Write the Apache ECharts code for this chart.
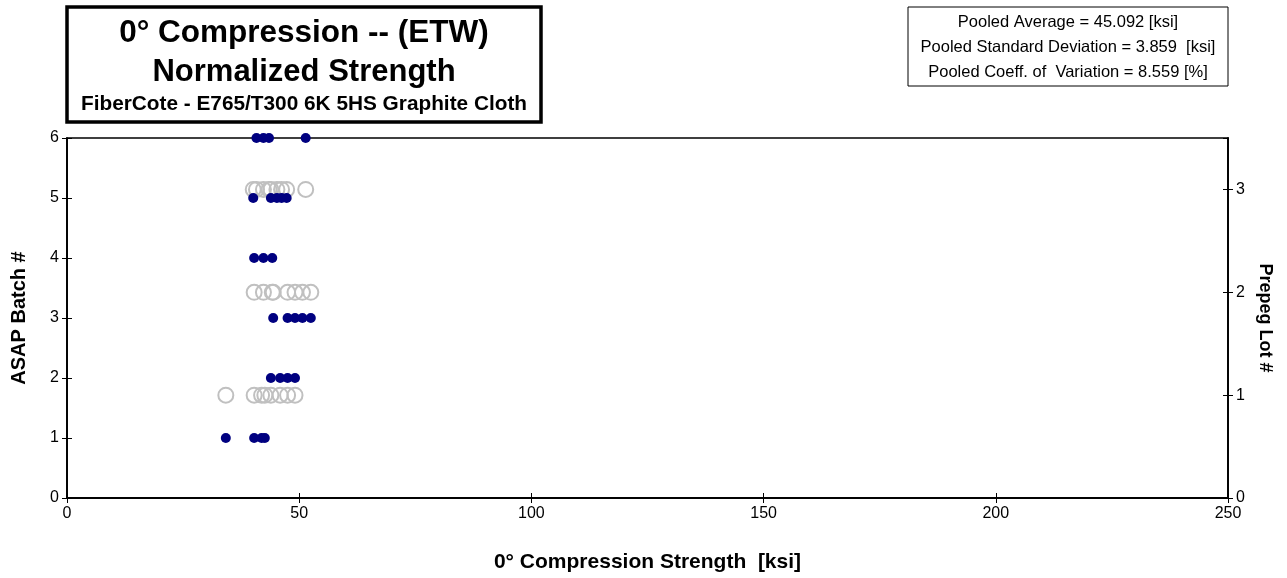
<!DOCTYPE html>
<html><head><meta charset="utf-8">
<script src="https://cdn.jsdelivr.net/npm/echarts@6/dist/echarts.min.js"></script>
<style>html,body{margin:0;padding:0;background:#fff}#c{width:1287px;height:578px}</style>
</head><body><div id="c"></div>
<script>
// Strength values [ksi] by ASAP batch
const batch1 = [34.2, 40.3, 41.9, 42.6];
const batch2 = [43.9, 45.9, 47.5, 49.1];
const batch3 = [44.4, 47.5, 49.1, 50.7, 52.5];
const batch4 = [40.3, 42.3, 44.2];
const batch5 = [40.1, 43.9, 45.2, 46.2, 47.3];
const batch6 = [40.8, 42.3, 43.5, 51.4];
const batches = [batch1, batch2, batch3, batch4, batch5, batch6];
// Prepreg lot membership (lot number -> batches)
const lotBatches = [[1, 2], [3, 4], [5, 6]];
const xTicks = [0, 50, 100, 150, 200, 250];
const titleLines = ["0° Compression -- (ETW)", "Normalized Strength", "FiberCote - E765/T300 6K 5HS Graphite Cloth"];
const statLines = ["Pooled Average = 45.092 [ksi]", "Pooled Standard Deviation = 3.859  [ksi]", "Pooled Coeff. of  Variation = 8.559 [%]"];

const batchData = [];
batches.forEach((vals, i) => vals.forEach(v => batchData.push([v, i + 1])));
const lotData = [];
lotBatches.forEach((bs, i) => bs.forEach(b => batches[b - 1].forEach(v => lotData.push([v, i + 1]))));

const FONT = 'Liberation Sans, Arial, sans-serif';
const tickStyle = { color: '#000', width: 1 };
const gridBox = { left: 67, right: 59, top: 138, bottom: 80, outerBoundsMode: 'none', containLabel: false };
function xAx(g, inside, extra) {
  return Object.assign({
    gridIndex: g, type: 'value', min: xTicks[0], max: xTicks[xTicks.length - 1], interval: 50,
    axisLine: { lineStyle: { color: '#000', width: 1.5 } },
    axisTick: { show: true, length: 5, inside: inside, lineStyle: tickStyle },
    axisLabel: inside ? { show: false } : { color: '#000', fontSize: 16, margin: 8, fontFamily: FONT },
    splitLine: { show: false }
  }, extra || {});
}
function yAx(g, max, pos, inside, extra) {
  return Object.assign({
    gridIndex: g, type: 'value', min: 0, max: max, interval: 1, position: pos,
    axisLine: { show: true, lineStyle: { color: '#000', width: 1.5 } },
    axisTick: { show: true, length: 5, inside: inside, lineStyle: tickStyle },
    axisLabel: inside ? { show: false } : { color: '#000', fontSize: 16, margin: 8, fontFamily: FONT, showMaxLabel: max === 6 },
    splitLine: { show: false }
  }, extra || {});
}
const chart = echarts.init(document.getElementById('c'));
chart.setOption({
  animation: false,
  textStyle: { fontFamily: FONT },
  grid: [
    Object.assign({ show: true, borderColor: '#000', borderWidth: 1.5, backgroundColor: 'transparent' }, gridBox),
    Object.assign({ show: false }, gridBox)
  ],
  xAxis: [
    xAx(0, false, {
      name: '0° Compression Strength  [ksi]', nameLocation: 'middle', nameGap: 54,
      nameTextStyle: { fontSize: 21, fontWeight: 'bold', color: '#000', fontFamily: FONT }
    }),
    xAx(1, true)
  ],
  yAxis: [
    yAx(0, 6, 'left', false, {
      name: 'ASAP Batch #', nameLocation: 'middle', nameGap: 38, nameRotate: 90,
      nameTextStyle: { fontSize: 20, fontWeight: 'bold', color: '#000', fontFamily: FONT }
    }),
    yAx(0, 3.5, 'right', false, {
      name: 'Prepeg Lot #', nameLocation: 'middle', nameGap: 25, nameRotate: -90,
      nameTextStyle: { fontSize: 18, fontWeight: 'bold', color: '#000', fontFamily: FONT }
    }),
    yAx(1, 6, 'left', true),
    yAx(1, 3.5, 'right', true)
  ],
  series: [{
    type: 'scatter', xAxisIndex: 0, yAxisIndex: 1, data: lotData, symbol: 'circle', symbolSize: 15,
    itemStyle: { color: 'rgba(255,255,255,0)', borderColor: '#c0c0c0', borderWidth: 2, opacity: 1 }, z: 2
  }, {
    type: 'scatter', xAxisIndex: 0, yAxisIndex: 0, data: batchData, symbol: 'circle', symbolSize: 10,
    itemStyle: { color: '#000080', opacity: 1 }, z: 3
  }],
  graphic: [
    { type: 'rect', shape: { x: 67, y: 7, width: 474, height: 115 }, style: { fill: '#fff', stroke: '#000', lineWidth: 3.5 }, z: 10 },
    { type: 'text', x: 304, y: 33, style: { text: titleLines[0], font: 'bold 31.5px ' + FONT, fill: '#000', align: 'center', verticalAlign: 'middle' }, z: 11 },
    { type: 'text', x: 304, y: 72, style: { text: titleLines[1], font: 'bold 31px ' + FONT, fill: '#000', align: 'center', verticalAlign: 'middle' }, z: 11 },
    { type: 'text', x: 304, y: 104, style: { text: titleLines[2], font: 'bold 20.8px ' + FONT, fill: '#000', align: 'center', verticalAlign: 'middle' }, z: 11 },
    { type: 'rect', shape: { x: 908, y: 7, width: 320, height: 79 }, style: { fill: '#fff', stroke: '#000', lineWidth: 1 }, z: 10 },
    { type: 'text', x: 1068, y: 22, style: { text: statLines[0], font: '16.5px ' + FONT, fill: '#000', align: 'center', verticalAlign: 'middle' }, z: 11 },
    { type: 'text', x: 1068, y: 47, style: { text: statLines[1], font: '16.5px ' + FONT, fill: '#000', align: 'center', verticalAlign: 'middle' }, z: 11 },
    { type: 'text', x: 1068, y: 72, style: { text: statLines[2], font: '16.5px ' + FONT, fill: '#000', align: 'center', verticalAlign: 'middle' }, z: 11 }
  ]
});
</script></body></html>
